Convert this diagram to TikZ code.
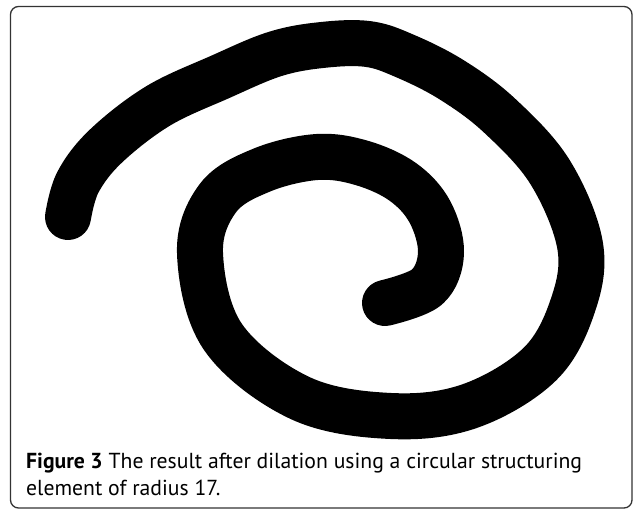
\documentclass[tikz,border=0pt]{standalone}
\usepackage{fontspec}
\setmainfont{PT Sans}
\begin{document}
\begin{tikzpicture}[x=1pt,y=-1pt,
  spiralarm/.style={line width=46pt,line cap=round,line join=round},
  framebox/.style={draw=black!80,line width=1.3pt,rounded corners=8pt},
  captiontext/.style={anchor=base west,align=left,inner sep=0pt,
    font=\fontsize{21.7}{27}\selectfont}]
\useasboundingbox (0,0) rectangle (635,512);
\draw[framebox] (10.5,6.5) rectangle (632,508);
% dilated spiral, outer end to inner end
\draw[spiralarm] plot[smooth,tension=0.6] coordinates {
  (68,217) (78,182) (106,146) (158,106) (220,77) (275,54) (322,45)
  (368,44) (405,56) (452,80) (500,116) (550,172) (580,245)
  (573,305) (540,364) (470,406) (391,416) (300,398) (223,337)
  (200,253) (218,198) (262,170) (317,157) (362,163) (403,182)
  (430,212) (441,253) (427,287) (385,303)};
\node[captiontext] (caption) at (26,495)
  {\textbf{Figure 3} The result after dilation using a circular structuring\\
   element of radius 17.};
\end{tikzpicture}
\end{document}
